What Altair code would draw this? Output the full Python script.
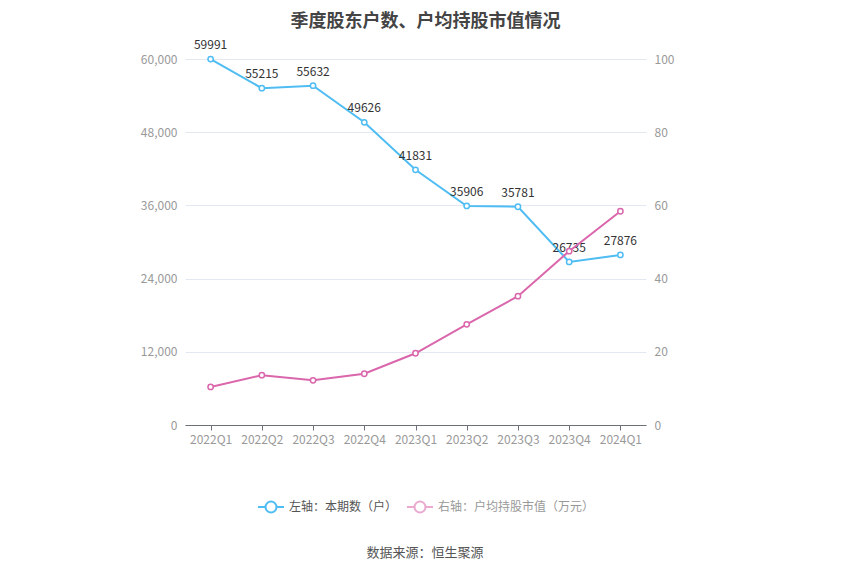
import altair as alt
import pandas as pd

quarters = ["2022Q1", "2022Q2", "2022Q3", "2022Q4", "2023Q1", "2023Q2", "2023Q3", "2023Q4", "2024Q1"]
holders = [59991, 55215, 55632, 49626, 41831, 35906, 35781, 26735, 27876]
avg_value = [10.4, 13.6, 12.2, 14.0, 19.6, 27.5, 35.2, 47.5, 58.4]

s1 = "左轴：本期数（户）"
s2 = "右轴：户均持股市值（万元）"
BLUE = "#4fbdf3"
PINK = "#da66ab"
FONT = "Noto Sans CJK SC"

df1 = pd.DataFrame({"quarter": quarters, "value": holders, "series": s1})
df2 = pd.DataFrame({"quarter": quarters, "value": avg_value, "series": s2})
src = pd.DataFrame({"t": ["数据来源：恒生聚源"]})

sym = "M-1,0L-0.42,0M0.42,0L1,0M0.42,0A0.42,0.42 0 1,1 -0.42,0A0.42,0.42 0 1,1 0.42,0Z"

x = alt.X("quarter:N", sort=quarters, title=None,
          axis=alt.Axis(labelAngle=0, domainColor="#6e7079", tickColor="#6e7079", ticks=True,
                        tickSize=5, labelColor="#999999", labelFontSize=12, labelPadding=4,
                        labelFont=FONT))

base1 = alt.Chart(df1).encode(
    x=x,
    y=alt.Y("value:Q", title=None, scale=alt.Scale(domain=[0, 60000]),
            axis=alt.Axis(values=[0, 12000, 24000, 36000, 48000, 60000], format=",d", labelColor="#999999",
                          labelFontSize=12, labelFont=FONT, grid=True, gridColor="#e3e8f2", domain=False,
                          ticks=False, labelPadding=8)),
)

left = base1.mark_line(strokeWidth=2, point=alt.OverlayMarkDef(filled=True, fill="white", size=28, strokeWidth=1.5)).encode(
    stroke=alt.Stroke("series:N", scale=alt.Scale(domain=[s1], range=[BLUE]),
                      legend=alt.Legend(title=None, orient="none", legendX=72, legendY=434,
                                        symbolType=sym, symbolSize=676, symbolStrokeWidth=2,
                                        symbolFillColor="white", labelColor="#555555", labelFontSize=12,
                                        labelFont=FONT, labelOffset=4)),
)

labels = base1.mark_text(baseline="bottom", dy=-7, fontSize=12, color="#333333", font=FONT).encode(
    text=alt.Text("value:Q"),
)

right = alt.Chart(df2).mark_line(strokeWidth=2, point=alt.OverlayMarkDef(filled=True, fill="white", size=28, strokeWidth=1.5)).encode(
    x=alt.X("quarter:N", sort=quarters),
    y=alt.Y("value:Q", title=None, scale=alt.Scale(domain=[0, 100]),
            axis=alt.Axis(orient="right", values=[0, 20, 40, 60, 80, 100], format="d", labelColor="#999999",
                          labelFontSize=12, labelFont=FONT, grid=False, domain=False, ticks=False,
                          labelPadding=8)),
    stroke=alt.Stroke("series:N", scale=alt.Scale(domain=[s2], range=[PINK]),
                      legend=alt.Legend(title=None, orient="none", legendX=221, legendY=434,
                                        symbolType=sym, symbolSize=676, symbolStrokeWidth=2,
                                        symbolFillColor="white", symbolOpacity=0.55,
                                        labelColor="#999999", labelFontSize=12, labelFont=FONT,
                                        labelOffset=4)),
)

source = alt.Chart(src).mark_text(fontSize=13, color="#555555", font=FONT, baseline="middle").encode(
    x=alt.value(240), y=alt.value(494), text="t:N"
)

left_layer = alt.layer(left, labels)
chart = alt.layer(left_layer, right, source).resolve_scale(y="independent", stroke="independent").properties(
    width=461, height=366,
    title=alt.TitleParams("季度股东户数、户均持股市值情况", anchor="middle", frame="group", dx=10, offset=8,
                          fontSize=18, fontWeight="bold", color="#444444", font=FONT),
    autosize=alt.AutoSizeParams(type="none"),
    padding={"left": 177, "top": 51, "right": 196, "bottom": 142},
).configure_view(stroke=None)

chart.save("out.html", embed_options={"renderer": "svg", "actions": False})
